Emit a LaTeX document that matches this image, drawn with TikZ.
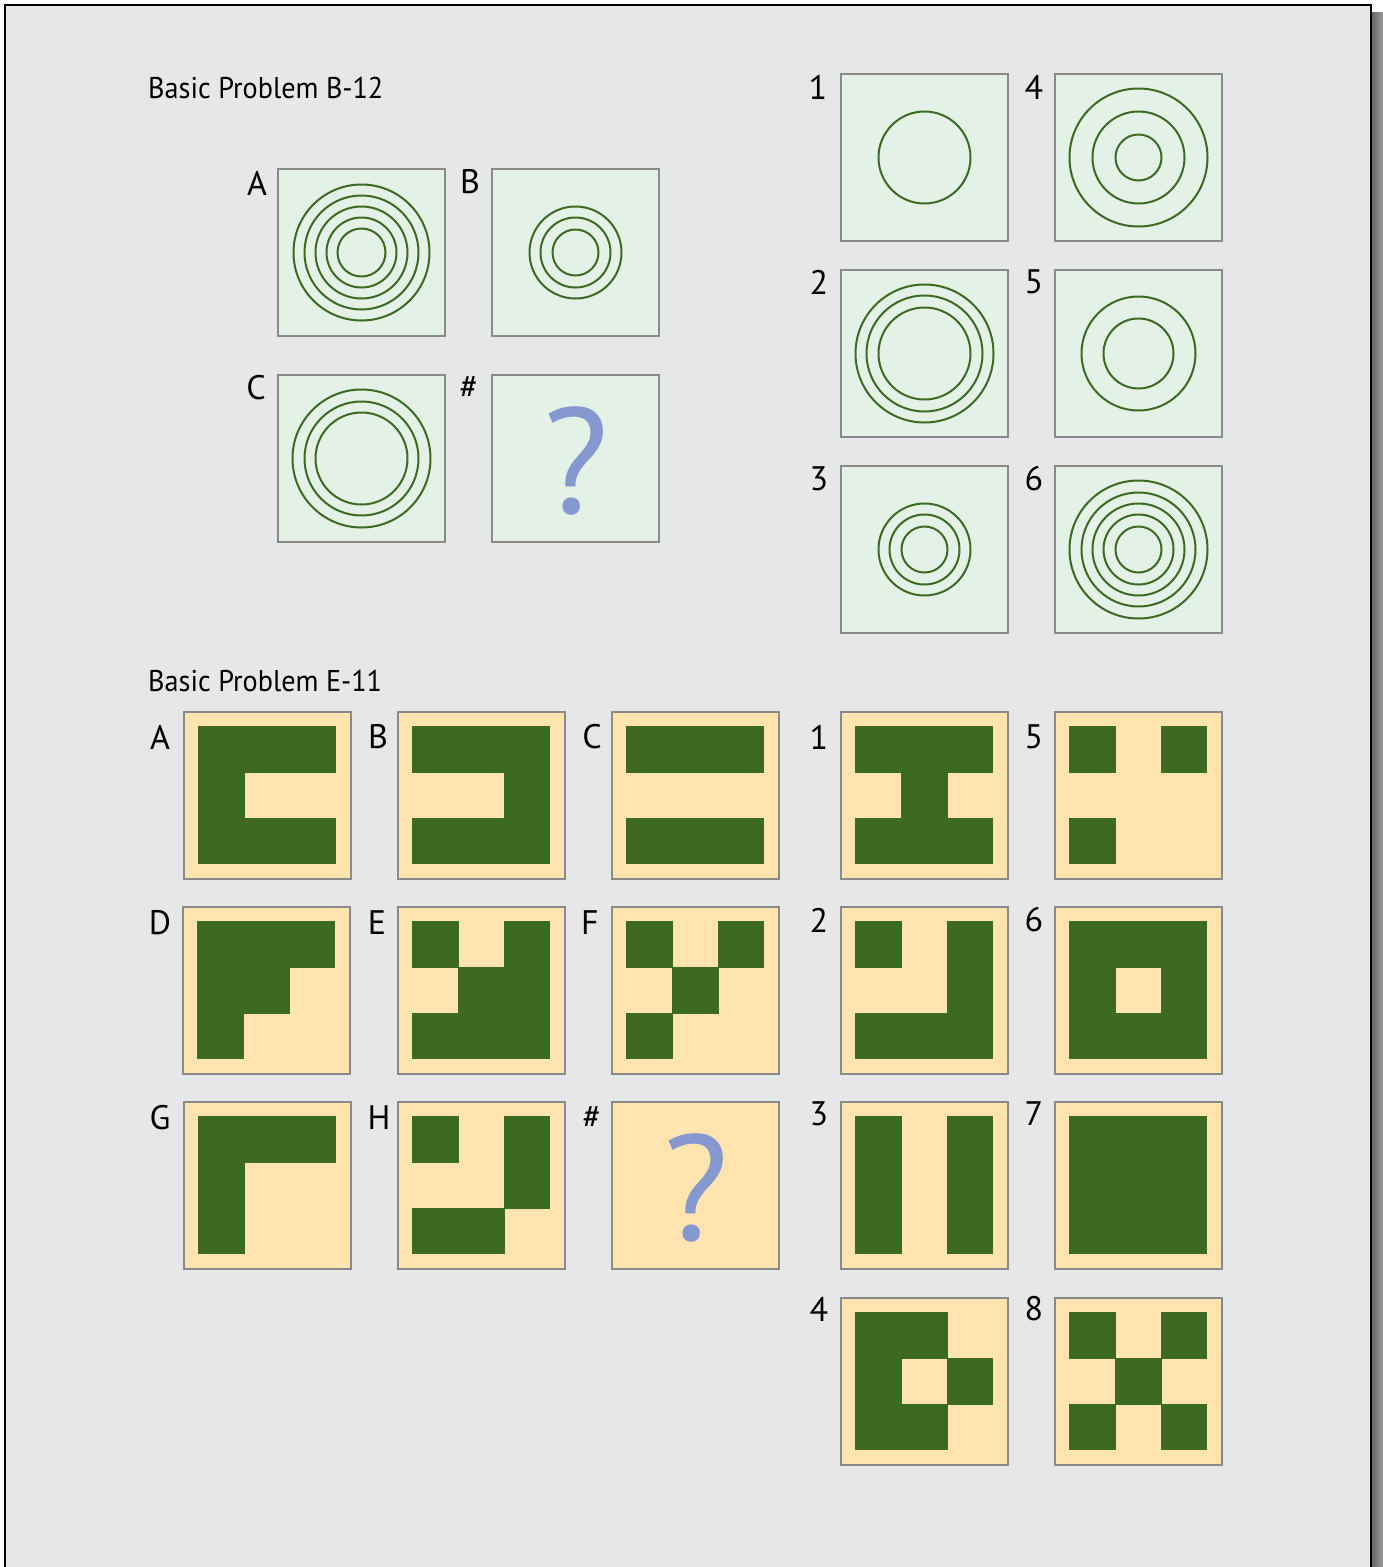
\documentclass[tikz,border=0pt]{standalone}
\usepackage{fontspec}
\setmainfont{PT Sans}
\newfontfamily\ttlfont[FakeStretch=0.94]{PT Sans}
\usetikzlibrary{calc}
\definecolor{bg}{RGB}{230,231,233}
\definecolor{mint}{RGB}{228,241,230}
\definecolor{boxgray}{RGB}{138,138,138}
\definecolor{dkgreen}{RGB}{60,106,35}
\definecolor{tan}{RGB}{255,228,176}
\definecolor{qblue}{RGB}{133,153,208}
\definecolor{shadowA}{RGB}{100,100,103}
\definecolor{shadowB}{RGB}{155,155,158}
\newcommand\gridpat[2]{%
  \foreach \r/\c in {#2}{%
    \fill[cell] ($(#1.north west)+(15.5+\c*45.67,15.5+\r*45.67)$) rectangle +(45.67,45.67);}}
\newcommand\rings[2]{%
  \foreach \rr in {#2}{\draw[ring] (#1.center) circle[radius=\rr];}}
\begin{document}
\begin{tikzpicture}[x=1pt,y=-1pt,
  pnl/.style={draw=boxgray, line width=2pt, minimum size=167pt, inner sep=0pt, anchor=north west},
  mintpnl/.style={pnl, fill=mint},
  tanpnl/.style={pnl, fill=tan},
  lbl/.style={font=\fontsize{34}{34}\selectfont, inner sep=0pt, anchor=center},
  ttl/.style={font=\ttlfont\fontsize{30}{30}\selectfont, inner sep=0pt, anchor=base west},
  ring/.style={draw=dkgreen, line width=2pt},
  cell/.style={fill=dkgreen, draw=dkgreen, line width=0.6pt},
  qm/.style={font=\fontsize{150}{150}\selectfont, text=qblue, inner sep=0pt}]
\useasboundingbox (0,0) rectangle (1383,1567);
\fill[white] (0,0) rectangle (1383,1567);
\shade[left color=shadowA, right color=shadowB] (1371,12) rectangle (1383,1567);
\fill[bg] (4.75,4.75) rectangle (1371,1580);
\draw[black, line width=1.5pt] (4.75,1580) -- (4.75,4.75) -- (1371,4.75) -- (1371,1580);

% ---------- Basic Problem B-12 ----------
\node[ttl] (t1) at (148,98) {Basic Problem B-12};
\node[mintpnl] (bA) at (277,168) {};
\node[mintpnl] (bB) at (491,168) {};
\node[mintpnl] (bC) at (277,374) {};
\node[mintpnl] (bQ) at (491,374) {};
\node[mintpnl] (b1) at (840,73) {};
\node[mintpnl] (b4) at (1054,73) {};
\node[mintpnl] (b2) at (840,269) {};
\node[mintpnl] (b5) at (1054,269) {};
\node[mintpnl] (b3) at (840,465) {};
\node[mintpnl] (b6) at (1054,465) {};
\rings{bA}{68,57,46,35,24}
\rings{bB}{46,35,23}
\rings{bC}{69,57,46}
\rings{b1}{46}
\rings{b4}{69,46,23}
\rings{b2}{69,58,46}
\rings{b5}{57,35}
\rings{b3}{46,35,23}
\rings{b6}{69,57,46,35,23}
\node[qm] (bQq) at ($(bQ.center)+(1,2)$) {?};
\node[lbl] (lbA) at (257,183) {A};
\node[lbl] (lbB) at (470,182) {B};
\node[lbl] (lbC) at (256,388) {C};
\node[lbl] (lbQ) at (469,388) {\#};
\node[lbl] (lb1) at (818,87) {1};
\node[lbl] (lb4) at (1034,87) {4};
\node[lbl] (lb2) at (819,282) {2};
\node[lbl] (lb5) at (1034,282) {5};
\node[lbl] (lb3) at (819,479) {3};
\node[lbl] (lb6) at (1034,479) {6};

% ---------- Basic Problem E-11 ----------
\node[ttl] (t2) at (148,691) {Basic Problem E-11};
\node[tanpnl] (eA) at (183,711) {};
\node[tanpnl] (eB) at (397,711) {};
\node[tanpnl] (eC) at (611,711) {};
\node[tanpnl] (eD) at (182,906) {};
\node[tanpnl] (eE) at (397,906) {};
\node[tanpnl] (eF) at (611,906) {};
\node[tanpnl] (eG) at (183,1101) {};
\node[tanpnl] (eH) at (397,1101) {};
\node[tanpnl] (eQ) at (611,1101) {};
\node[tanpnl] (e1) at (840,711) {};
\node[tanpnl] (e5) at (1054,711) {};
\node[tanpnl] (e2) at (840,906) {};
\node[tanpnl] (e6) at (1054,906) {};
\node[tanpnl] (e3) at (840,1101) {};
\node[tanpnl] (e7) at (1054,1101) {};
\node[tanpnl] (e4) at (840,1297) {};
\node[tanpnl] (e8) at (1054,1297) {};
\gridpat{eA}{0/0,0/1,0/2,1/0,2/0,2/1,2/2}
\gridpat{eB}{0/0,0/1,0/2,1/2,2/0,2/1,2/2}
\gridpat{eC}{0/0,0/1,0/2,2/0,2/1,2/2}
\gridpat{eD}{0/0,0/1,0/2,1/0,1/1,2/0}
\gridpat{eE}{0/0,0/2,1/1,1/2,2/0,2/1,2/2}
\gridpat{eF}{0/0,0/2,1/1,2/0}
\gridpat{eG}{0/0,0/1,0/2,1/0,2/0}
\gridpat{eH}{0/0,0/2,1/2,2/0,2/1}
\gridpat{e1}{0/0,0/1,0/2,1/1,2/0,2/1,2/2}
\gridpat{e2}{0/0,0/2,1/2,2/0,2/1,2/2}
\gridpat{e3}{0/0,0/2,1/0,1/2,2/0,2/2}
\gridpat{e4}{0/0,0/1,1/0,1/2,2/0,2/1}
\gridpat{e5}{0/0,0/2,2/0}
\gridpat{e6}{0/0,0/1,0/2,1/0,1/2,2/0,2/1,2/2}
\gridpat{e7}{0/0,0/1,0/2,1/0,1/1,1/2,2/0,2/1,2/2}
\gridpat{e8}{0/0,0/2,1/1,2/0,2/2}
\node[qm] (eQq) at ($(eQ.center)+(1,2)$) {?};
\node[lbl] (leA) at (160,737) {A};
\node[lbl] (leB) at (378,737) {B};
\node[lbl] (leC) at (592,737) {C};
\node[lbl] (leD) at (160,923) {D};
\node[lbl] (leE) at (377,923) {E};
\node[lbl] (leF) at (590,923) {F};
\node[lbl] (leG) at (160,1118) {G};
\node[lbl] (leH) at (379,1118) {H};
\node[lbl] (leQ) at (592,1118) {\#};
\node[lbl] (le1) at (819,737) {1};
\node[lbl] (le5) at (1034,737) {5};
\node[lbl] (le2) at (819,920) {2};
\node[lbl] (le6) at (1034,920) {6};
\node[lbl] (le3) at (819,1114) {3};
\node[lbl] (le7) at (1034,1114) {7};
\node[lbl] (le4) at (819,1309) {4};
\node[lbl] (le8) at (1034,1309) {8};
\end{tikzpicture}
\end{document}
